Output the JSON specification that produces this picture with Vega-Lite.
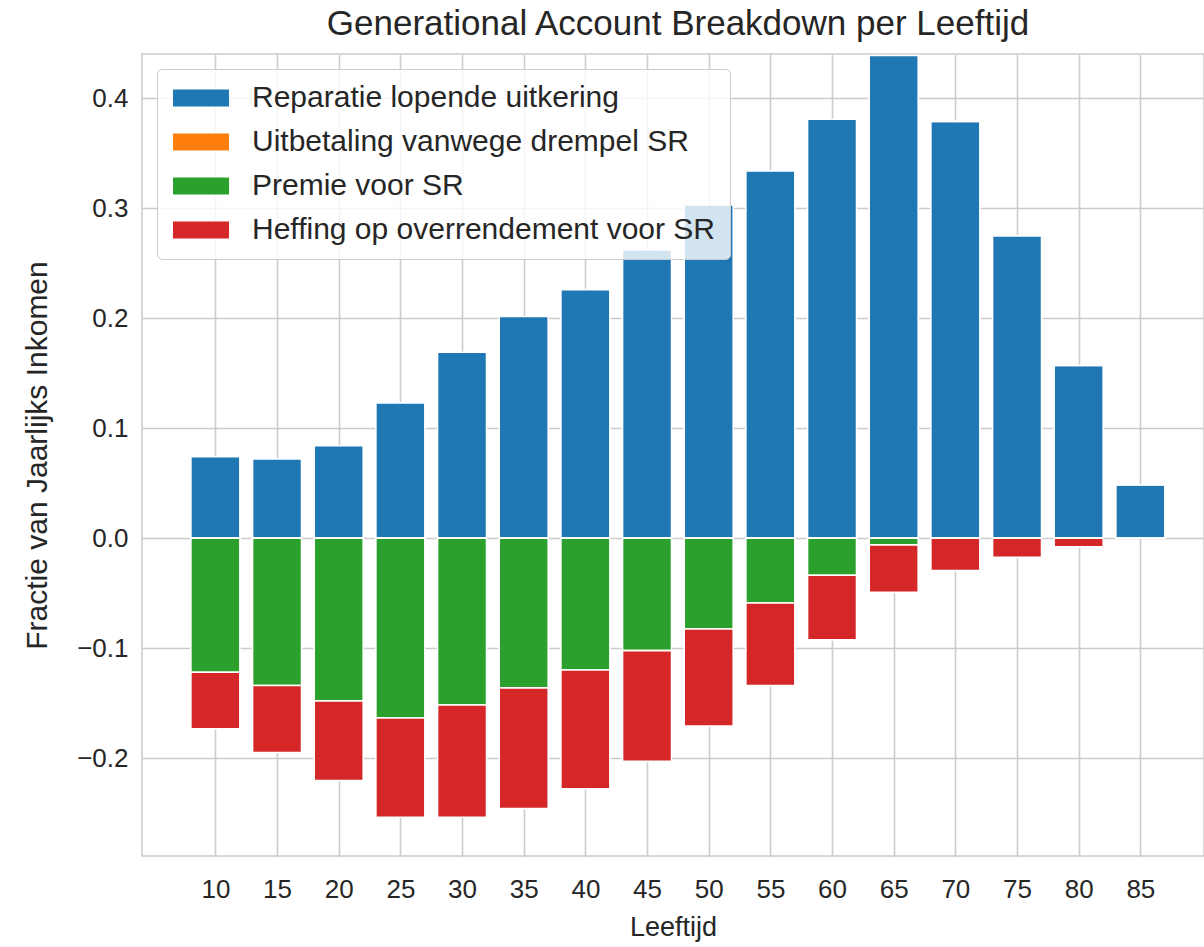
{
  "$schema": "https://vega.github.io/schema/vega-lite/v6.json",
  "autosize": {"type": "none"},
  "padding": {"left": 142, "top": 54, "right": 0, "bottom": 91},
  "width": 1062,
  "height": 802,
  "background": "white",
  "title": {
    "text": "Generational Account Breakdown per Leeftijd",
    "font": "Liberation Sans",
    "fontSize": 35,
    "fontWeight": "normal",
    "color": "#262626",
    "anchor": "middle",
    "offset": 12,
    "dx": 5
  },
  "data": {
    "values": [
      {"leeftijd": 10, "component": "Reparatie lopende uitkering", "waarde": 0.074},
      {"leeftijd": 15, "component": "Reparatie lopende uitkering", "waarde": 0.072},
      {"leeftijd": 20, "component": "Reparatie lopende uitkering", "waarde": 0.084},
      {"leeftijd": 25, "component": "Reparatie lopende uitkering", "waarde": 0.123},
      {"leeftijd": 30, "component": "Reparatie lopende uitkering", "waarde": 0.169},
      {"leeftijd": 35, "component": "Reparatie lopende uitkering", "waarde": 0.2015},
      {"leeftijd": 40, "component": "Reparatie lopende uitkering", "waarde": 0.226},
      {"leeftijd": 45, "component": "Reparatie lopende uitkering", "waarde": 0.262},
      {"leeftijd": 50, "component": "Reparatie lopende uitkering", "waarde": 0.303},
      {"leeftijd": 55, "component": "Reparatie lopende uitkering", "waarde": 0.334},
      {"leeftijd": 60, "component": "Reparatie lopende uitkering", "waarde": 0.381},
      {"leeftijd": 65, "component": "Reparatie lopende uitkering", "waarde": 0.439},
      {"leeftijd": 70, "component": "Reparatie lopende uitkering", "waarde": 0.379},
      {"leeftijd": 75, "component": "Reparatie lopende uitkering", "waarde": 0.275},
      {"leeftijd": 80, "component": "Reparatie lopende uitkering", "waarde": 0.157},
      {"leeftijd": 85, "component": "Reparatie lopende uitkering", "waarde": 0.0485},
      {"leeftijd": 10, "component": "Uitbetaling vanwege drempel SR", "waarde": 0},
      {"leeftijd": 15, "component": "Uitbetaling vanwege drempel SR", "waarde": 0},
      {"leeftijd": 20, "component": "Uitbetaling vanwege drempel SR", "waarde": 0},
      {"leeftijd": 25, "component": "Uitbetaling vanwege drempel SR", "waarde": 0},
      {"leeftijd": 30, "component": "Uitbetaling vanwege drempel SR", "waarde": 0},
      {"leeftijd": 35, "component": "Uitbetaling vanwege drempel SR", "waarde": 0},
      {"leeftijd": 40, "component": "Uitbetaling vanwege drempel SR", "waarde": 0},
      {"leeftijd": 45, "component": "Uitbetaling vanwege drempel SR", "waarde": 0},
      {"leeftijd": 50, "component": "Uitbetaling vanwege drempel SR", "waarde": 0},
      {"leeftijd": 55, "component": "Uitbetaling vanwege drempel SR", "waarde": 0},
      {"leeftijd": 60, "component": "Uitbetaling vanwege drempel SR", "waarde": 0},
      {"leeftijd": 65, "component": "Uitbetaling vanwege drempel SR", "waarde": 0},
      {"leeftijd": 70, "component": "Uitbetaling vanwege drempel SR", "waarde": 0},
      {"leeftijd": 75, "component": "Uitbetaling vanwege drempel SR", "waarde": 0},
      {"leeftijd": 80, "component": "Uitbetaling vanwege drempel SR", "waarde": 0},
      {"leeftijd": 85, "component": "Uitbetaling vanwege drempel SR", "waarde": 0},
      {"leeftijd": 10, "component": "Premie voor SR", "waarde": -0.122},
      {"leeftijd": 15, "component": "Premie voor SR", "waarde": -0.134},
      {"leeftijd": 20, "component": "Premie voor SR", "waarde": -0.148},
      {"leeftijd": 25, "component": "Premie voor SR", "waarde": -0.1636},
      {"leeftijd": 30, "component": "Premie voor SR", "waarde": -0.1518},
      {"leeftijd": 35, "component": "Premie voor SR", "waarde": -0.1362},
      {"leeftijd": 40, "component": "Premie voor SR", "waarde": -0.12},
      {"leeftijd": 45, "component": "Premie voor SR", "waarde": -0.1023},
      {"leeftijd": 50, "component": "Premie voor SR", "waarde": -0.0827},
      {"leeftijd": 55, "component": "Premie voor SR", "waarde": -0.059},
      {"leeftijd": 60, "component": "Premie voor SR", "waarde": -0.0338},
      {"leeftijd": 65, "component": "Premie voor SR", "waarde": -0.0061},
      {"leeftijd": 70, "component": "Premie voor SR", "waarde": 0},
      {"leeftijd": 75, "component": "Premie voor SR", "waarde": 0},
      {"leeftijd": 80, "component": "Premie voor SR", "waarde": 0},
      {"leeftijd": 85, "component": "Premie voor SR", "waarde": 0},
      {"leeftijd": 10, "component": "Heffing op overrendement voor SR", "waarde": -0.0515},
      {"leeftijd": 15, "component": "Heffing op overrendement voor SR", "waarde": -0.061},
      {"leeftijd": 20, "component": "Heffing op overrendement voor SR", "waarde": -0.0725},
      {"leeftijd": 25, "component": "Heffing op overrendement voor SR", "waarde": -0.0902},
      {"leeftijd": 30, "component": "Heffing op overrendement voor SR", "waarde": -0.102},
      {"leeftijd": 35, "component": "Heffing op overrendement voor SR", "waarde": -0.1098},
      {"leeftijd": 40, "component": "Heffing op overrendement voor SR", "waarde": -0.108},
      {"leeftijd": 45, "component": "Heffing op overrendement voor SR", "waarde": -0.1007},
      {"leeftijd": 50, "component": "Heffing op overrendement voor SR", "waarde": -0.0883},
      {"leeftijd": 55, "component": "Heffing op overrendement voor SR", "waarde": -0.075},
      {"leeftijd": 60, "component": "Heffing op overrendement voor SR", "waarde": -0.0587},
      {"leeftijd": 65, "component": "Heffing op overrendement voor SR", "waarde": -0.0432},
      {"leeftijd": 70, "component": "Heffing op overrendement voor SR", "waarde": -0.0296},
      {"leeftijd": 75, "component": "Heffing op overrendement voor SR", "waarde": -0.0175},
      {"leeftijd": 80, "component": "Heffing op overrendement voor SR", "waarde": -0.008},
      {"leeftijd": 85, "component": "Heffing op overrendement voor SR", "waarde": 0}
    ]
  },
  "mark": {"type": "bar", "size": 49, "stroke": "white", "strokeWidth": 1.6, "strokeJoin": "miter"},
  "encoding": {
    "x": {
      "field": "leeftijd",
      "type": "quantitative",
      "scale": {"domain": [4.05, 90.16], "nice": false, "zero": false, "padding": 0},
      "axis": {
        "title": "Leeftijd",
        "values": [10, 15, 20, 25, 30, 35, 40, 45, 50, 55, 60, 65, 70, 75, 80, 85],
        "format": "d",
        "labelPadding": 20,
        "titlePadding": 12
      }
    },
    "y": {
      "field": "waarde",
      "type": "quantitative",
      "stack": "zero",
      "scale": {"domain": [-0.2891, 0.4403], "nice": false, "zero": false, "padding": 0},
      "axis": {
        "title": "Fractie van Jaarlijks Inkomen",
        "values": [-0.2, -0.1, 0, 0.1, 0.2, 0.3, 0.4],
        "format": ".1f",
        "labelPadding": 14,
        "titlePadding": 24,
        "titleFontSize": 30
      }
    },
    "color": {
      "field": "component",
      "type": "nominal",
      "scale": {
        "domain": ["Reparatie lopende uitkering", "Uitbetaling vanwege drempel SR", "Premie voor SR", "Heffing op overrendement voor SR"],
        "range": ["#1f77b4", "#ff7f0e", "#2ca02c", "#d62728"]
      },
      "legend": {
        "title": null,
        "orient": "top-left",
        "offset": 15
      }
    },
    "order": {"field": "component", "sort": "descending"}
  },
  "config": {
    "font": "Liberation Sans",
    "view": {"stroke": "#cccccc", "strokeWidth": 1.6},
    "axis": {
      "domain": false,
      "ticks": false,
      "grid": true,
      "gridColor": "#cccccc",
      "gridWidth": 1.6,
      "labelFont": "Liberation Sans",
      "labelFontSize": 26,
      "labelColor": "#262626",
      "titleFont": "Liberation Sans",
      "titleFontSize": 27,
      "titleFontWeight": "normal",
      "titleColor": "#262626"
    },
    "legend": {
      "padding": 14,
      "rowPadding": 14,
      "labelFont": "Liberation Sans",
      "labelFontSize": 30,
      "labelColor": "#262626",
      "labelLimit": 0,
      "labelOffset": 36,
      "symbolOffset": 15,
      "symbolType": "M-2,-0.6H2V0.6H-2Z",
      "symbolSize": 784,
      "symbolStrokeWidth": 0,
      "symbolOpacity": 1,
      "fillColor": "rgba(255,255,255,0.8)",
      "strokeColor": "#cccccc",
      "cornerRadius": 5
    }
  }
}
